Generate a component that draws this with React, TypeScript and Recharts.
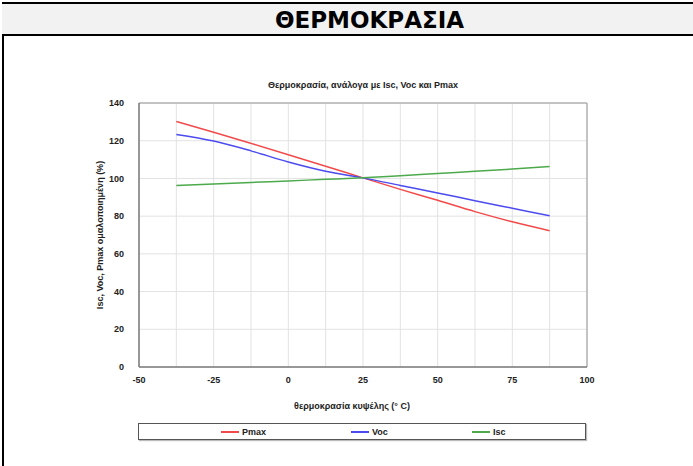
import React from 'react';
import {
  LineChart,
  Line,
  XAxis,
  YAxis,
  CartesianGrid,
  ReferenceLine,
  Label,
} from 'recharts';

// cell temperature (°C) and normalised values (%)
const temps = [-37.5, -25, -12.5, 0, 12.5, 25, 37.5, 50, 62.5, 75, 87.5];
const pmax = [130.2, 124.5, 118.6, 112.6, 106.5, 100.3, 94.2, 88.4, 82.4, 77, 72.3];
const voc = [123.3, 119.8, 114.6, 108.7, 103.8, 100.3, 96.3, 92.3, 88.2, 84.2, 80.2];
const isc = [96.3, 97.1, 97.9, 98.7, 99.5, 100.3, 101.4, 102.6, 103.8, 105, 106.3];

const xTicks = [-50, -25, 0, 25, 50, 75, 100];
const xGrid = [-50, -37.5, -25, -12.5, 0, 12.5, 25, 37.5, 50, 62.5, 75, 87.5, 100];
const yTicks = [0, 20, 40, 60, 80, 100, 120, 140];

const seriesNames = ['Pmax', 'Voc', 'Isc'];
const seriesColors = ['#f24a4a', '#4b4bf0', '#4caa4c'];

const data = temps.map((t, i) => ({ t, Pmax: pmax[i], Voc: voc[i], Isc: isc[i] }));

const FONT = '"Liberation Sans", Arial, sans-serif';
const tickStyle = { fontSize: 9, fontWeight: 700, fill: '#222', fontFamily: FONT };

export default function App() {
  return (
    <div
      style={{
        position: 'absolute',
        left: 0,
        top: 0,
        width: 693,
        height: 466,
        background: '#fff',
        overflow: 'hidden',
      }}
    >
      {/* left frame */}
      <div style={{ position: 'absolute', left: 2, top: 2, width: 2, height: 464, background: '#000' }} />
      {/* header band — the frame runs past the right edge of the picture */}
      <div
        style={{
          position: 'absolute',
          left: 2,
          top: 2,
          width: 735,
          height: 30,
          background: '#f2f2f2',
          borderTop: '2px solid #000',
          borderBottom: '2px solid #000',
          textAlign: 'center',
          fontFamily: '"DejaVu Sans", Verdana, sans-serif',
          fontWeight: 700,
          fontSize: 23,
          lineHeight: '32px',
          color: '#000',
        }}
      >
        ΘΕΡΜΟΚΡΑΣΙΑ
      </div>

      {/* chart title */}
      <div
        style={{
          position: 'absolute',
          left: 139,
          top: 80,
          width: 448,
          textAlign: 'center',
          fontFamily: FONT,
          fontWeight: 700,
          fontSize: 9,
          color: '#222',
        }}
      >
        Θερμοκρασία, ανάλογα με Isc, Voc και Pmax
      </div>

      <div style={{ position: 'absolute', left: 0, top: 0 }}>
        <LineChart
          width={693}
          height={466}
          data={data}
          margin={{ top: 103, right: 106, bottom: 69, left: 99 }}
        >
          <CartesianGrid
            stroke="#e2e2e2"
            verticalValues={xGrid}
            horizontalValues={yTicks}
          />
          <XAxis
            dataKey="t"
            type="number"
            domain={[-50, 100]}
            ticks={xTicks}
            height={30}
            tick={tickStyle}
            tickLine={false}
            axisLine={{ stroke: '#7a7a7a', strokeWidth: 1.5 }}
            tickMargin={4}
          >
            <Label
              value="θερμοκρασία κυψέλης (° C)"
              position="bottom"
              offset={6}
              dx={-11}
              style={{ fontSize: 9, fontWeight: 700, fill: '#222', fontFamily: FONT }}
            />
          </XAxis>
          <YAxis
            type="number"
            domain={[0, 140]}
            ticks={yTicks}
            width={40}
            tick={tickStyle}
            tickLine={false}
            axisLine={{ stroke: '#7a7a7a', strokeWidth: 1.5 }}
            tickMargin={9}
          >
            <Label
              value="Isc, Voc, Pmax ομαλοποιημένη (%)"
              angle={-90}
              position="insideLeft"
              offset={1}
              style={{ fontSize: 9, fontWeight: 700, fill: '#222', fontFamily: FONT, textAnchor: 'middle' }}
            />
          </YAxis>
          <ReferenceLine y={140} stroke="#b4b4b4" strokeWidth={1.5} />
          <ReferenceLine x={100} stroke="#b4b4b4" strokeWidth={1.5} />
          {seriesNames.map((name, i) => (
            <Line
              key={name}
              dataKey={name}
              type="monotone"
              stroke={seriesColors[i]}
              strokeWidth={1.5}
              dot={false}
              isAnimationActive={false}
            />
          ))}
        </LineChart>
      </div>

      {/* legend */}
      <div
        style={{
          position: 'absolute',
          left: 138,
          top: 423,
          width: 446,
          height: 15,
          border: '1px solid #555',
          boxShadow: '1px 1px 1px #bbb',
          fontFamily: FONT,
          fontWeight: 700,
          fontSize: 9,
          color: '#222',
        }}
      >
        {seriesNames.map((name, i) => (
          <div
            key={name}
            style={{
              position: 'absolute',
              left: [82, 212, 333][i],
              top: 0,
              height: 15,
              display: 'flex',
              alignItems: 'center',
            }}
          >
            <span
              style={{
                display: 'inline-block',
                width: 18,
                height: 0,
                borderTop: `2px solid ${seriesColors[i]}`,
              }}
            />
            <span style={{ marginLeft: 3 }}>{name}</span>
          </div>
        ))}
      </div>
    </div>
  );
}
